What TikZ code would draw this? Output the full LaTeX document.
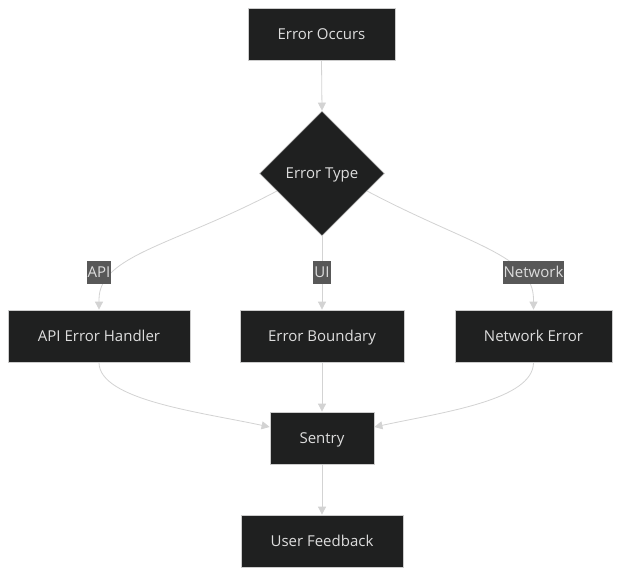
\documentclass[tikz,border=0pt]{standalone}
\usepackage{fontspec}
\setmainfont{Open Sans}
\usetikzlibrary{arrows.meta,shapes.geometric,calc}
\pgfdeclarelayer{bg}
\pgfsetlayers{bg,main}
\definecolor{boxfill}{HTML}{1F2020}
\definecolor{boxline}{HTML}{CCCCCC}
\definecolor{txt}{HTML}{DDDDDD}
\definecolor{edge}{HTML}{D3D3D3}
\definecolor{lblfill}{HTML}{585858}
\tikzset{
  box/.style={draw=boxline, line width=0.8pt, fill=boxfill, text=txt, font=\fontsize{15}{17}\selectfont, inner sep=0pt, text height=10.7pt, text depth=0pt, anchor=center},
  dec/.style={diamond, draw=boxline, line width=0.8pt, fill=boxfill, text=txt, font=\fontsize{15}{17}\selectfont, text height=10.7pt, text depth=0pt, minimum width=125pt, minimum height=125pt, inner sep=0pt, aspect=1},
  lbl/.style={fill=lblfill, text=txt, font=\fontsize{15}{17}\selectfont, inner xsep=1pt, inner ysep=0pt, text height=10.7pt, text depth=0pt, minimum height=23pt},
  conn/.style={draw=edge, line width=0.8pt, -{Triangle[length=8pt,width=8pt]}},
  connn/.style={draw=edge, line width=0.8pt}
}
\begin{document}
\begin{tikzpicture}[x=1pt,y=-1pt]
\useasboundingbox (0,0) rectangle (629,584);
\begin{pgfonlayer}{bg}
\fill[white] (0,0) rectangle (629,584);
\end{pgfonlayer}
\node[box, minimum width=147pt, minimum height=52pt] (occ) at (321.5,34) {Error Occurs};
\node[dec] (et) at (322,173.5) {Error Type};
\node[box, minimum width=182pt, minimum height=52pt] (api) at (99,336) {API Error Handler};
\node[box, minimum width=164pt, minimum height=52pt] (eb) at (322,336) {Error Boundary};
\node[box, minimum width=157pt, minimum height=52pt] (net) at (533.5,336) {Network Error};
\node[box, minimum width=104pt, minimum height=52pt] (sen) at (322,438) {Sentry};
\node[box, minimum width=162pt, minimum height=52pt] (uf) at (322,541) {User Feedback};
\node[lbl] (lapi) at (99,272) {API};
\node[lbl] (lui) at (322,272) {UI};
\node[lbl] (lnet) at (533.5,272) {Network};
\coordinate (ets) at ($(et.west)!0.28!(et.south)$);
\coordinate (ete) at ($(et.east)!0.28!(et.south)$);
\coordinate (apiin) at ($(api.north)+(0,-10)$);
\coordinate (netin) at ($(net.north)+(0,-10)$);
\coordinate (senw) at ($(sen.west)+(0,-11)$);
\coordinate (sene) at ($(sen.east)+(0,-11)$);
\begin{pgfonlayer}{bg}
\draw[conn] (occ.south) -- (et.north);
\draw[conn] (ets) .. controls (175,245) and (99,255) .. (apiin) -- (api.north);
\draw[connn] (et.south) -- (lui.center);
\draw[conn] (lui.center) -- (eb.north);
\draw[conn] (ete) .. controls (469,245) and (533.5,255) .. (netin) -- (net.north);
\draw[conn] (api.south) .. controls (99,400) and (200,412) .. (senw);
\draw[conn] (eb.south) -- (sen.north);
\draw[conn] (net.south) .. controls (533.5,400) and (444,412) .. (sene);
\draw[conn] (sen.south) -- (uf.north);
\end{pgfonlayer}
\end{tikzpicture}
\end{document}
